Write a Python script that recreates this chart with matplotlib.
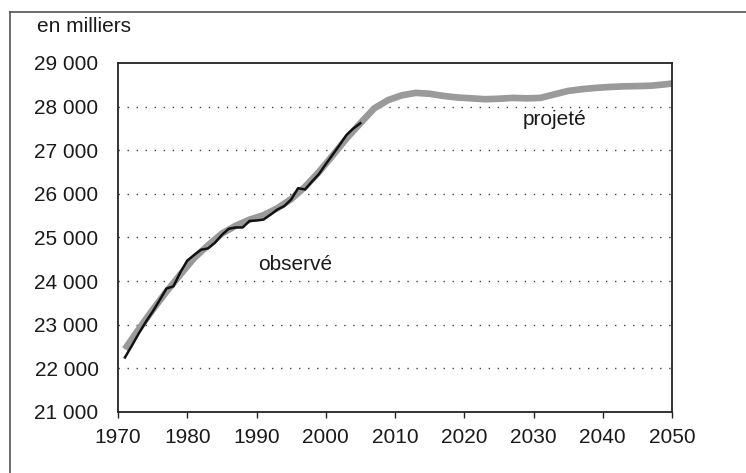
import matplotlib
matplotlib.use("Agg")
import matplotlib.pyplot as plt
from matplotlib.lines import Line2D
from matplotlib.ticker import FixedLocator, FuncFormatter

plt.rcParams["font.family"] = ["Liberation Sans", "DejaVu Sans"]

# Projection (grey, thick) - population in thousands
proj_years = [1971, 1973, 1975, 1977, 1979, 1981, 1983, 1985, 1987, 1989,
              1991, 1993, 1995, 1997, 1999, 2001, 2003, 2005, 2007, 2009,
              2011, 2013, 2015, 2017, 2019, 2021, 2023, 2025, 2027, 2029,
              2031, 2033, 2035, 2037, 2039, 2041, 2043, 2045, 2047, 2049, 2050]
proj_vals = [22440, 22900, 23340, 23760, 24150, 24530, 24820, 25090, 25270, 25410,
             25510, 25670, 25880, 26160, 26500, 26880, 27270, 27620, 27960, 28150,
             28260, 28315, 28295, 28245, 28210, 28190, 28170, 28180, 28200, 28190,
             28200, 28280, 28360, 28400, 28430, 28450, 28465, 28470, 28480, 28510, 28530]

# Observed (black, thin)
obs_years = list(range(1971, 2006))
obs_vals = [22250, 22520, 22800, 23060, 23300, 23560, 23830, 23880, 24200, 24470,
            24600, 24720, 24750, 24880, 25060, 25200, 25230, 25230, 25380, 25390,
            25410, 25520, 25640, 25720, 25870, 26130, 26100, 26280, 26450, 26680,
            26900, 27120, 27350, 27500, 27620]

x_ticks = list(range(1970, 2051, 10))
y_ticks = list(range(21000, 29001, 1000))

fig = plt.figure(figsize=(7.46, 4.73), dpi=100)
ax = fig.add_axes([118 / 746, 61 / 473, 554 / 746, 349 / 473])

ax.plot(proj_years, proj_vals, color="#9a9a9a", lw=4.8, solid_capstyle="butt",
        solid_joinstyle="round", zorder=2)
ax.plot(obs_years, obs_vals, color="#111111", lw=1.8, solid_joinstyle="round", zorder=3)

ax.set_xlim(1970, 2050)
ax.set_ylim(21000, 29000)
ax.xaxis.set_major_locator(FixedLocator(x_ticks))
ax.yaxis.set_major_locator(FixedLocator(y_ticks))
ax.yaxis.set_major_formatter(FuncFormatter(lambda v, p: f"{int(v):,}".replace(",", " ")))

for y in y_ticks[1:-1]:
    ax.axhline(y, color="#444444", lw=1.0, linestyle=(0, (1, 5.5)), zorder=1)

for s in ax.spines.values():
    s.set_color("#222222")
    s.set_linewidth(1.3)

ax.tick_params(axis="x", direction="out", length=4.5, width=1, color="#222222",
               labelsize=15, pad=7, labelcolor="#1a1a1a")
ax.tick_params(axis="y", length=0, labelsize=15, pad=14, labelcolor="#1a1a1a")

fig.text(37 / 746, 1 - 27 / 473, "en milliers", fontsize=15, color="#1a1a1a",
         ha="left", va="center")
ax.text(1990.2, 24370, "observé", fontsize=15, color="#1a1a1a", ha="left", va="center")
ax.text(2028.5, 27716, "projeté", fontsize=15, color="#1a1a1a", ha="left", va="center")

# outer frame (left and top edges)
fig.add_artist(Line2D([10 / 746, 10 / 746], [0, 1 - 12 / 473], transform=fig.transFigure,
                      color="#555555", lw=1.2))
fig.add_artist(Line2D([10 / 746, 1], [1 - 12 / 473, 1 - 12 / 473], transform=fig.transFigure,
                      color="#555555", lw=1.2))

fig.savefig("out.png", dpi=100)
